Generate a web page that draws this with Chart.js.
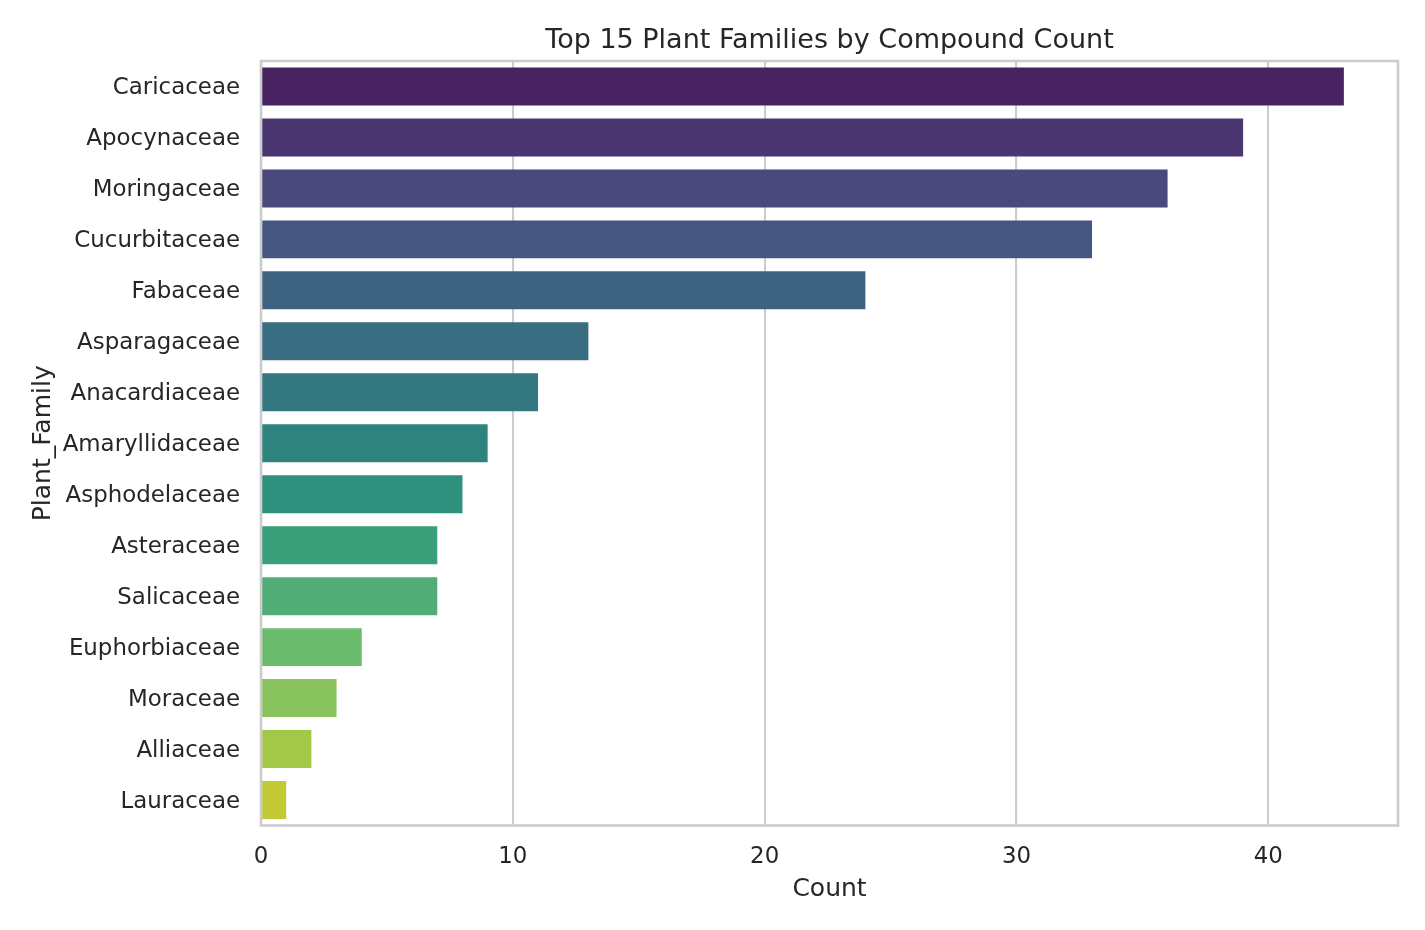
<!DOCTYPE html>
<html>
<head>
<meta charset="utf-8">
<script src="https://cdn.jsdelivr.net/npm/chart.js@4.4.1/dist/chart.umd.min.js"></script>
<style>
  html, body { margin: 0; padding: 0; background: #ffffff; }
  #wrap { width: 1425px; height: 930px; }
</style>
</head>
<body>
<div id="wrap"><canvas id="chart"></canvas></div>
<script>
const families = ['Caricaceae', 'Apocynaceae', 'Moringaceae', 'Cucurbitaceae', 'Fabaceae',
    'Asparagaceae', 'Anacardiaceae', 'Amaryllidaceae', 'Asphodelaceae', 'Asteraceae',
    'Salicaceae', 'Euphorbiaceae', 'Moraceae', 'Alliaceae', 'Lauraceae'];
const counts = [43, 39, 36, 33, 24, 13, 11, 9, 8, 7, 7, 4, 3, 2, 1];
const xTicks = [0, 10, 20, 30, 40];

// viridis samples, then toned down like seaborn's saturation=0.75
const viridis = [[72, 25, 107], [71, 45, 123], [66, 64, 133], [59, 82, 139], [51, 99, 141],
    [45, 114, 142], [38, 129, 142], [33, 145, 140], [32, 160, 136], [42, 174, 128],
    [64, 188, 115], [95, 201, 97], [132, 211, 75], [173, 220, 49], [215, 227, 28]];

function desaturate(rgb, prop) {
    let r = rgb[0] / 255, g = rgb[1] / 255, b = rgb[2] / 255;
    let max = Math.max(r, g, b), min = Math.min(r, g, b);
    let l = (max + min) / 2;
    let s = l <= 0.5 ? (max - min) / (max + min) : (max - min) / (2 - max - min);
    let ns = s * prop;
    let nd = l <= 0.5 ? ns * 2 * l : ns * (2 - 2 * l);
    let nmin = l - nd / 2;
    let out = [r, g, b].map(function (c) {
        let f = (max - min) === 0 ? 0 : (c - min) / (max - min);
        return Math.round((nmin + f * nd) * 255);
    });
    return 'rgb(' + out.join(',') + ')';
}
const barColors = viridis.map(function (c) { return desaturate(c, 0.75); });

const textColor = '#262626';
const lineColor = '#cccccc';
Chart.defaults.font.family = '"DejaVu Sans", sans-serif';
Chart.defaults.color = textColor;

const frame = {
    id: 'frame',
    afterDatasetsDraw(chart) {
        const a = chart.chartArea;
        const c = chart.ctx;
        c.save();
        c.strokeStyle = lineColor;
        c.lineWidth = 2.6;
        c.strokeRect(a.left, a.top, a.right - a.left, a.bottom - a.top);
        c.restore();
    }
};

new Chart(document.getElementById('chart'), {
    type: 'bar',
    data: {
        labels: families,
        datasets: [{
            data: counts,
            backgroundColor: barColors,
            borderWidth: 0,
            barPercentage: 0.745,
            categoryPercentage: 1.0
        }]
    },
    options: {
        indexAxis: 'y',
        responsive: true,
        maintainAspectRatio: false,
        animation: false,
        layout: { padding: { left: 0, right: 27, top: 0, bottom: 0 } },
        plugins: {
            legend: { display: false },
            tooltip: { enabled: false },
            title: {
                display: true,
                text: 'Top 15 Plant Families by Compound Count',
                fullSize: false,
                color: textColor,
                font: { size: 27, weight: 'normal' },
                padding: { top: 24.8, bottom: 3.8 }
            }
        },
        scales: {
            x: {
                min: 0,
                max: 45.15,
                afterBuildTicks(scale) {
                    scale.ticks = xTicks.map(function (v) { return { value: v }; });
                },
                afterFit(scale) { scale.height = 104.5; },
                grid: { color: lineColor, lineWidth: 2.1, drawTicks: false },
                border: { display: false },
                ticks: { padding: 18, font: { size: 22.9 }, color: textColor },
                title: {
                    display: true, text: 'Count', color: textColor,
                    font: { size: 25 }, padding: { top: 0, bottom: 26 }
                }
            },
            y: {
                afterFit(scale) { scale.width = 261; },
                grid: { display: false, drawTicks: false },
                border: { display: false },
                ticks: { padding: 21, labelOffset: 2, font: { size: 22.9 }, color: textColor },
                title: {
                    display: true, text: 'Plant_Family', color: textColor,
                    font: { size: 25 }, padding: { top: 28, bottom: 0 }
                }
            }
        }
    },
    plugins: [frame]
});
</script>
</body>
</html>
